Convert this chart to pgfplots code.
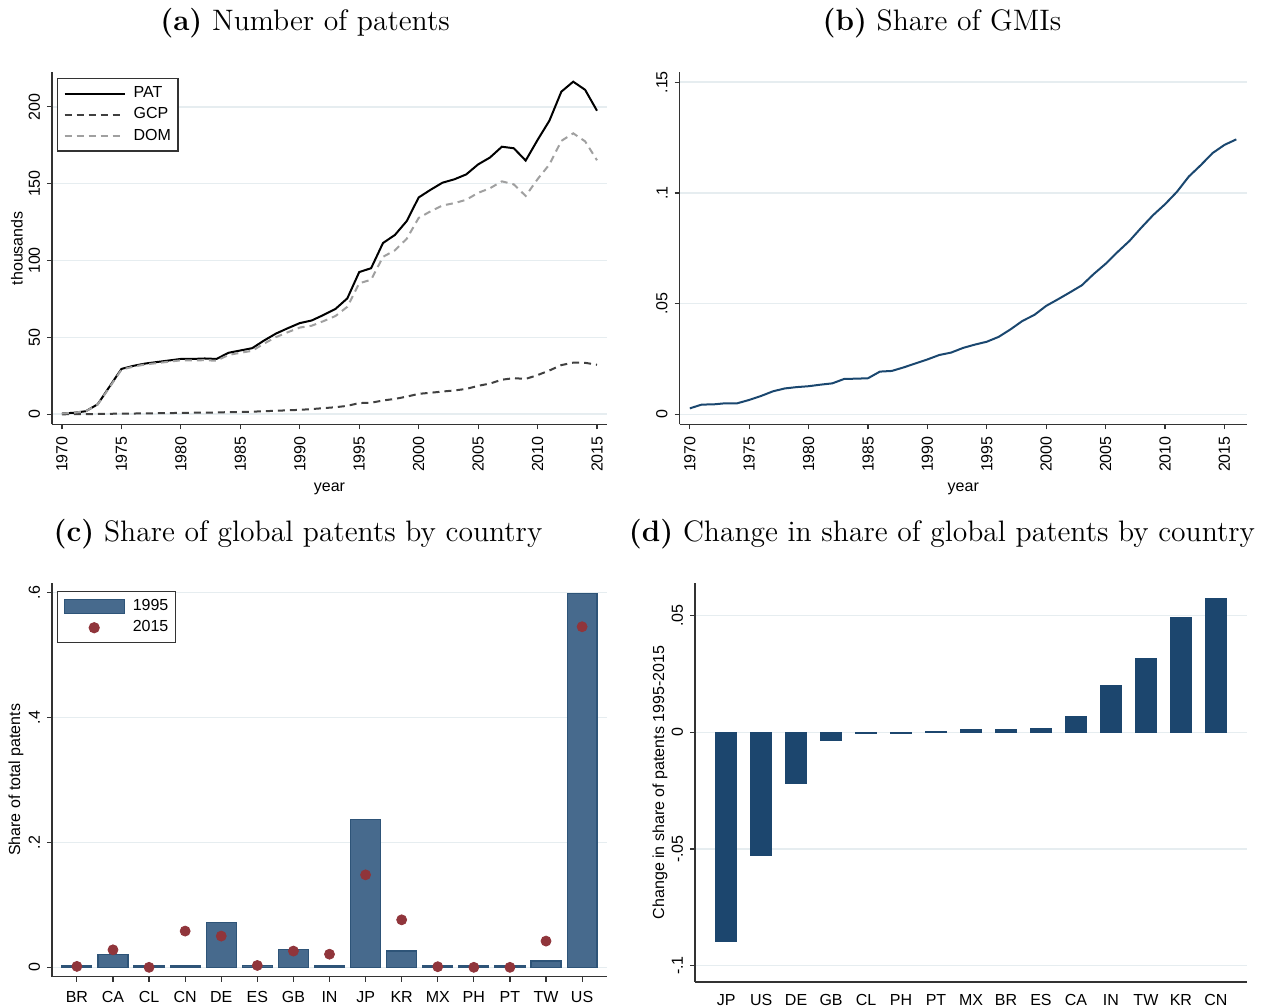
\documentclass[border=0pt]{standalone}
\usepackage{pgfplots}
\pgfplotsset{compat=1.18}
\usepackage{fontspec}
\newfontfamily\arial{Liberation Sans}
\newcommand\sfs{\arial\fontsize{8}{9.6}\selectfont}
\newcommand\ttl{\fontsize{14.8}{18}\selectfont}
\definecolor{gridc}{HTML}{E6EDF0}
\definecolor{axc}{HTML}{333333}
\definecolor{navy}{HTML}{1A476F}
\definecolor{barc}{HTML}{476A8D}
\definecolor{barl}{HTML}{2E5478}
\definecolor{dbar}{HTML}{1C466E}
\definecolor{maroon}{HTML}{90353B}
\definecolor{gcpc}{HTML}{404040}
\definecolor{domc}{HTML}{A0A0A0}
\pgfplotsset{
  stata/.style={
    scale only axis, anchor=south west,
    axis x line*=bottom, axis y line*=left,
    axis line style={axc, line width=0.6pt},
    tick align=outside, major tick length=2.5pt,
    tick style={axc, line width=0.6pt},
    ymajorgrids, grid style={gridc, line width=0.8pt},
    tick label style={font=\sfs},
    label style={font=\sfs},
    yticklabel style={rotate=90, anchor=south},
    legend style={font=\sfs, draw=axc, line width=0.6pt, cells={anchor=west}, inner xsep=1.5pt, row sep=-0.5pt},
  },
  linelegend/.style={legend image code/.code={\path (-1.5pt,0pt) (32pt,0pt); \draw[##1] (0pt,0pt) -- (30pt,0pt);}},
}
\begin{document}
\begin{tikzpicture}
\path[use as bounding box] (0,0) rectangle (632.5pt,503.5pt);

\node[anchor=base, font=\ttl] at (152.5pt,488pt) {\textbf{(a)} Number of patents};
\node[anchor=base, font=\ttl] at (471pt,488pt) {\textbf{(b)} Share of GMIs};
\node[anchor=base, font=\ttl] at (149pt,232.5pt) {\textbf{(c)} Share of global patents by country};
\node[anchor=base, font=\ttl] at (471pt,232.5pt) {\textbf{(d)} Change in share of global patents by country};

% (a)
\begin{axis}[stata, at={(26pt,291.35pt)}, width=277.5pt, height=176pt,
  xmin=1969.16, xmax=2015.84, ymin=-6.5, ymax=222.4,
  xtick={1970,1975,1980,1985,1990,1995,2000,2005,2010,2015},
  xticklabels={1970,1975,1980,1985,1990,1995,2000,2005,2010,2015},
  xticklabel style={rotate=90, anchor=east},
  ytick={0,50,100,150,200}, yticklabels={0,50,100,150,200},
  ylabel={thousands}, xlabel={year},
  ylabel style={at={(axis description cs:0,0.5)}, anchor=center, yshift=17.5pt},
  xlabel style={at={(axis description cs:0.5,0)}, anchor=center, yshift=-32.5pt},
  linelegend,
  legend style={at={(0.009,0.9835)}, anchor=north west},
]
\addplot[black, line width=1pt] coordinates {
(1970,0.5)(1971,1)(1972,2)(1973,6.5)(1974,18)(1975,29.5)(1976,31.5)(1977,33)(1978,34)(1979,35)
(1980,36)(1981,36)(1982,36.3)(1983,36)(1984,40)(1985,41.5)(1986,43)(1987,48)(1988,52.5)(1989,56)
(1990,59.3)(1991,61)(1992,64.6)(1993,68.5)(1994,75.4)(1995,92.5)(1996,95)(1997,111.4)(1998,116.6)(1999,125.7)
(2000,141)(2001,146)(2002,150.6)(2003,152.8)(2004,156)(2005,162.5)(2006,167)(2007,174)(2008,173)(2009,165)
(2010,178.4)(2011,191)(2012,209.8)(2013,216.3)(2014,211)(2015,197.4)};
\addlegendentry{PAT}
\addplot[gcpc, line width=1pt, dash pattern=on 3.5pt off 2.5pt] coordinates {
(1970,0)(1971,0.1)(1972,0.1)(1973,0.2)(1974,0.3)(1975,0.5)(1976,0.5)(1977,0.6)(1978,0.7)(1979,0.8)
(1980,0.9)(1981,1)(1982,1.1)(1983,1.2)(1984,1.4)(1985,1.5)(1986,1.7)(1987,2)(1988,2.3)(1989,2.6)
(1990,2.9)(1991,3.4)(1992,4)(1993,4.6)(1994,5.5)(1995,7.3)(1996,7.5)(1997,9)(1998,10)(1999,11.5)
(2000,13.3)(2001,14)(2002,14.8)(2003,15.5)(2004,16.5)(2005,18.5)(2006,20)(2007,22.5)(2008,23.5)(2009,23)
(2010,25.5)(2011,28.5)(2012,32)(2013,33.6)(2014,33.5)(2015,32.2)};
\addlegendentry{GCP}
\addplot[domc, line width=1pt, dash pattern=on 3.5pt off 2.5pt] coordinates {
(1970,0.5)(1971,1)(1972,2)(1973,6.3)(1974,17.5)(1975,29)(1976,31)(1977,32.4)(1978,33.3)(1979,34.2)
(1980,35.1)(1981,35)(1982,35.2)(1983,34.8)(1984,38.6)(1985,40)(1986,41.3)(1987,46)(1988,50.2)(1989,53.4)
(1990,56.4)(1991,57.6)(1992,60.6)(1993,63.9)(1994,69.9)(1995,85.2)(1996,87.5)(1997,102.4)(1998,106.6)(1999,114.2)
(2000,127.7)(2001,132)(2002,135.8)(2003,137.3)(2004,139.5)(2005,144)(2006,147)(2007,151.5)(2008,149.5)(2009,142)
(2010,152.9)(2011,162.5)(2012,177.8)(2013,182.7)(2014,177.5)(2015,165.2)};
\addlegendentry{DOM}
\end{axis}

% (b)
\begin{axis}[stata, at={(339.8pt,291.35pt)}, width=283.7pt, height=176pt,
  xmin=1969.14, xmax=2016.9, ymin=-0.0045, ymax=0.1545,
  xtick={1970,1975,1980,1985,1990,1995,2000,2005,2010,2015},
  xticklabels={1970,1975,1980,1985,1990,1995,2000,2005,2010,2015},
  xticklabel style={rotate=90, anchor=east},
  ytick={0,0.05,0.1,0.15}, yticklabels={0,.05,.1,.15},
  xlabel={year},
  xlabel style={at={(axis description cs:0.5,0)}, anchor=center, yshift=-32.5pt},
]
\addplot[navy, line width=1pt] coordinates {
(1970,0.0027)(1971,0.0044)(1972,0.0045)(1973,0.0050)(1974,0.0050)(1975,0.0065)(1976,0.0083)(1977,0.0104)(1978,0.0117)(1979,0.0123)
(1980,0.0127)(1981,0.0134)(1982,0.0140)(1983,0.0160)(1984,0.0161)(1985,0.0163)(1986,0.0193)(1987,0.0196)(1988,0.0212)(1989,0.0230)
(1990,0.0248)(1991,0.0268)(1992,0.0279)(1993,0.0300)(1994,0.0315)(1995,0.0328)(1996,0.0350)(1997,0.0384)(1998,0.0422)(1999,0.0449)
(2000,0.0490)(2001,0.0520)(2002,0.0551)(2003,0.0583)(2004,0.0634)(2005,0.0680)(2006,0.0733)(2007,0.0783)(2008,0.0843)(2009,0.0900)
(2010,0.0949)(2011,0.1005)(2012,0.1074)(2013,0.1125)(2014,0.1180)(2015,0.1217)(2016,0.1242)};
\end{axis}

% (c)
\begin{axis}[stata, at={(26pt,15.15pt)}, width=277.5pt, height=196.85pt,
  xmin=-0.69, xmax=14.69, ymin=-0.015, ymax=0.615,
  xtick={0,...,14},
  xticklabels={BR,CA,CL,CN,DE,ES,GB,IN,JP,KR,MX,PH,PT,TW,US},
  xticklabel style={yshift=-1.5pt},
  ytick={0,0.2,0.4,0.6}, yticklabels={0,.2,.4,.6},
  ylabel={Share of total patents},
  ylabel style={at={(axis description cs:0,0.5)}, anchor=center, yshift=18pt},
  legend style={at={(0.009,0.98)}, anchor=north west},
]
\addplot[ybar, bar width=0.83, fill=barc, draw=barl, line width=0.6pt,
  legend image code/.code={\path (-1.5pt,0pt) (32pt,0pt); \draw[fill=barc, draw=barl, line width=0.6pt] (0pt,-3.5pt) rectangle (30pt,3.5pt);}]
  coordinates {(0,0.002)(1,0.021)(2,0.002)(3,0.002)(4,0.072)(5,0.003)(6,0.029)(7,0.002)(8,0.237)(9,0.026)(10,0.002)(11,0.002)(12,0.002)(13,0.010)(14,0.598)};
\addlegendentry{1995}
\addplot[only marks, mark=*, mark size=2.5pt, color=maroon,
  legend image code/.code={\path (-1.5pt,0pt) (32pt,0pt); \draw[mark=*, mark size=2.5pt, color=maroon] plot coordinates {(15pt,0pt)};}]
  coordinates {(0,0.0015)(1,0.028)(2,0.000)(3,0.058)(4,0.050)(5,0.003)(6,0.026)(7,0.021)(8,0.148)(9,0.076)(10,0.001)(11,0.000)(12,0.000)(13,0.042)(14,0.545)};
\addlegendentry{2015}
\end{axis}

% (d)
\begin{axis}[stata, at={(347.5pt,12.5pt)}, width=276pt, height=199.5pt,
  xmin=-0.89, xmax=14.89, ymin=-0.107, ymax=0.064,
  xtick={0,...,14},
  xticklabels={JP,US,DE,GB,CL,PH,PT,MX,BR,ES,CA,IN,TW,KR,CN},
  xtick style={draw=none},
  ytick={-0.1,-0.05,0,0.05}, yticklabels={-.1,-.05,0,.05},
  ylabel={Change in share of patents 1995-2015},
  ylabel style={at={(axis description cs:0,0.5)}, anchor=center, yshift=17.5pt},
]
\addplot[ybar, bar width=0.6, fill=dbar, draw=dbar, line width=0.4pt]
  coordinates {(0,-0.0897)(1,-0.0526)(2,-0.0218)(3,-0.0034)(4,-0.0005)(5,-0.0003)(6,0.0003)(7,0.0012)(8,0.0012)(9,0.0015)(10,0.0067)(11,0.0200)(12,0.0316)(13,0.0494)(14,0.0573)};
\end{axis}
\end{tikzpicture}
\end{document}
